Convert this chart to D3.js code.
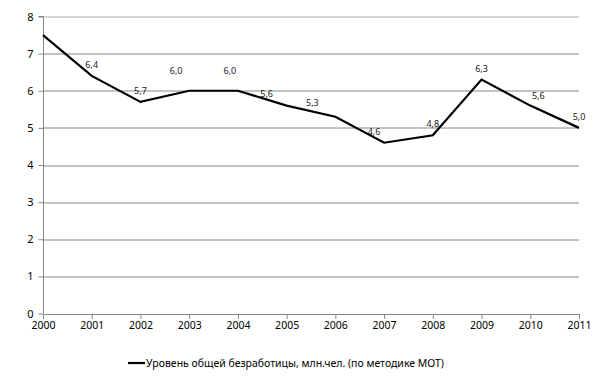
<!DOCTYPE html>
<html>
<head>
<meta charset="utf-8">
<script src="https://cdn.jsdelivr.net/npm/d3@7"></script>
<style>
  body { margin: 0; background: #fff; }
  svg { display: block; }
</style>
</head>
<body>
<div id="chart"></div>
<script>
// data
var years = [2000, 2001, 2002, 2003, 2004, 2005, 2006, 2007, 2008, 2009, 2010, 2011];
var unemployment = [7.5, 6.4, 5.7, 6.0, 6.0, 5.6, 5.3, 4.6, 4.8, 6.3, 5.6, 5.0];
var labelled = [false, true, true, true, true, true, true, true, true, true, true, true];
var yTicks = [0, 1, 2, 3, 4, 5, 6, 7, 8];
var seriesName = "Уровень общей безработицы, млн.чел. (по методике МОТ)";

// label nudges (px), hand-moved in the original
var labelNudge = {
  2003: [-13, -9], 2004: [-8, -9], 2005: [-20, -1], 2006: [-23, -3],
  2007: [-10, 0], 2010: [8, 1]
};

var attrs = {
  width: 600,
  height: 387,
  marginTop: 16.5,
  marginLeft: 43,
  marginRight: 21,
  marginBottom: 73.5,
  font: "'Noto Sans', sans-serif",
  axisColor: "#868686",
  lineColor: "#000"
};

var calc = {};
calc.chartWidth = attrs.width - attrs.marginLeft - attrs.marginRight;
calc.chartHeight = attrs.height - attrs.marginTop - attrs.marginBottom;

var svg = d3.select("#chart").append("svg")
  .attr("width", attrs.width)
  .attr("height", attrs.height);

var g = svg.append("g")
  .attr("transform", "translate(" + attrs.marginLeft + "," + attrs.marginTop + ")");

var x = d3.scalePoint().domain(years).range([0, calc.chartWidth]);
var y = d3.scaleLinear().domain([0, 8]).range([calc.chartHeight, 0]);

// gridlines
g.selectAll(".grid").data(yTicks.filter(d => d > 0)).enter().append("line")
  .attr("class", "grid")
  .attr("x1", 0).attr("x2", calc.chartWidth)
  .attr("y1", d => Math.round(y(d)) + 0.5).attr("y2", d => Math.round(y(d)) + 0.5)
  .attr("stroke", d => d === 8 ? "#c8c8c8" : attrs.axisColor)
  .attr("stroke-width", d => d === 8 ? 1.5 : 1);

// y axis
var yAxis = g.append("g")
  .attr("transform", "translate(0.5,0)")
  .call(d3.axisLeft(y).tickValues(yTicks).tickSize(5).tickPadding(5).tickFormat(d3.format("d")));
yAxis.select(".domain").attr("stroke", attrs.axisColor).attr("d", "M-5," + y(8) + "H0V" + calc.chartHeight);
yAxis.selectAll(".tick line").attr("stroke", attrs.axisColor);
yAxis.selectAll("text").attr("font-family", attrs.font).attr("font-size", 11).attr("fill", "#000");

// x axis
var xAxis = g.append("g")
  .attr("transform", "translate(0," + (Math.round(calc.chartHeight) + 0.5) + ")")
  .call(d3.axisBottom(x).tickSize(5).tickSizeOuter(0).tickPadding(3));
xAxis.select(".domain").attr("stroke", attrs.axisColor);
xAxis.selectAll(".tick line").attr("stroke", attrs.axisColor);
xAxis.selectAll("text").attr("font-family", attrs.font).attr("font-size", 10.5).attr("fill", "#000");

// line
var points = years.map((yr, i) => ({ year: yr, value: unemployment[i], show: labelled[i] }));
var line = d3.line().x(d => x(d.year)).y(d => y(d.value));

g.append("path")
  .datum(points)
  .attr("fill", "none")
  .attr("stroke", attrs.lineColor)
  .attr("stroke-width", 2.2)
  .attr("stroke-linejoin", "miter")
  .attr("d", line);

// value labels
var fmt = d => d3.format(".1f")(d).replace(".", ",");
g.selectAll(".value-label").data(points.filter(d => d.show)).enter().append("text")
  .attr("class", "value-label")
  .attr("x", d => x(d.year) + (labelNudge[d.year] ? labelNudge[d.year][0] : 0))
  .attr("y", d => y(d.value) - 8 + (labelNudge[d.year] ? labelNudge[d.year][1] : 0))
  .attr("text-anchor", "middle")
  .attr("font-family", attrs.font)
  .attr("font-size", 9)
  .attr("fill", "#1a1a1a")
  .text(d => fmt(d.value));

// legend
var legend = svg.append("g").attr("transform", "translate(128,363)");
legend.append("line")
  .attr("x1", 0).attr("x2", 17).attr("y1", 0).attr("y2", 0)
  .attr("stroke", attrs.lineColor).attr("stroke-width", 2.2);
legend.append("text")
  .attr("x", 18).attr("y", 4)
  .attr("font-family", attrs.font)
  .attr("font-size", 10.2)
  .attr("textLength", 298)
  .attr("lengthAdjust", "spacingAndGlyphs")
  .attr("fill", "#000")
  .text(seriesName);
</script>
</body>
</html>
